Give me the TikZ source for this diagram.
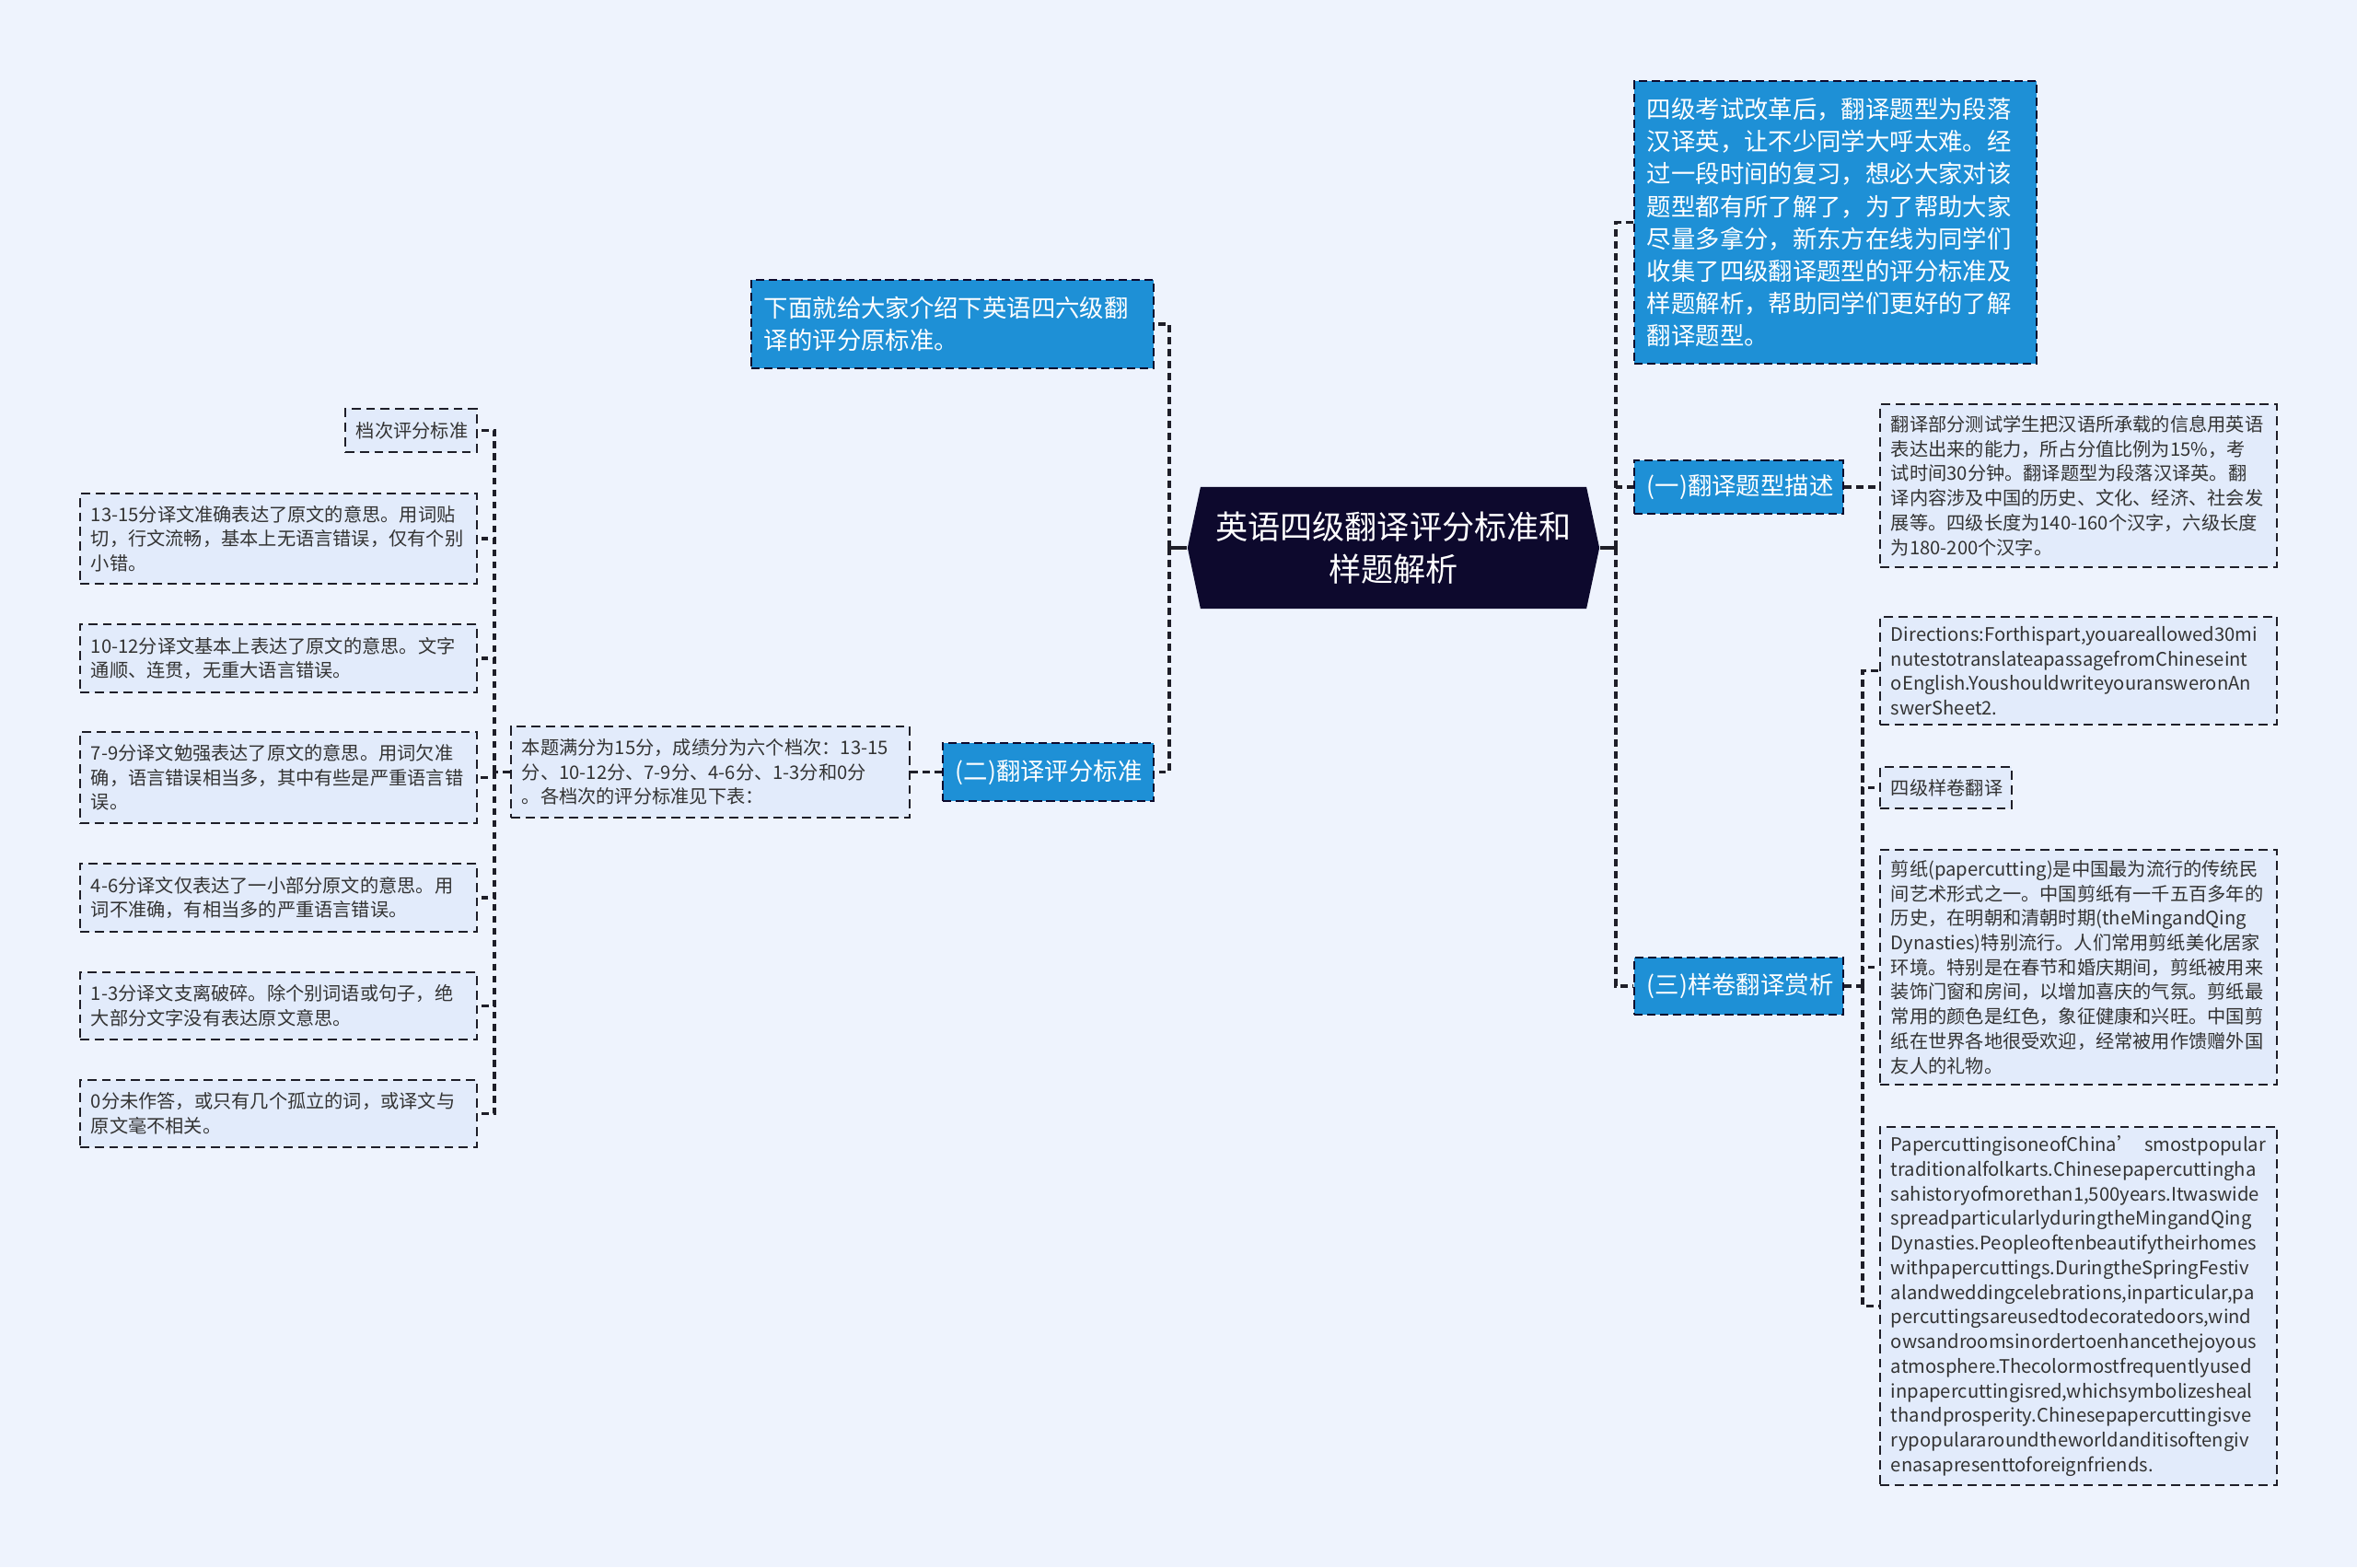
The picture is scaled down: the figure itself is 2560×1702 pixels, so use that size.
\documentclass[tikz,border=0pt]{standalone}
\usepackage{fontspec}
\setmainfont{Noto Sans CJK SC}
\usetikzlibrary{shapes.symbols}
\definecolor{bgclr}{RGB}{238,243,253}
\definecolor{rootclr}{RGB}{13,9,45}
\definecolor{topicclr}{RGB}{30,144,214}
\definecolor{noteclr}{RGB}{226,235,251}
\definecolor{inkclr}{RGB}{51,51,51}
\definecolor{lineclr}{RGB}{30,30,40}
\tikzset{
  rootbox/.style={signal, signal to=west and east, signal pointer angle=156,
    fill=rootclr, text=white, align=center, inner sep=0pt,
    minimum width=4.47cm, minimum height=1.32cm,
    font=\fontsize{10pt}{13pt}\selectfont},
  topic/.style={draw=rootclr, dash pattern=on 2.6pt off 1.4pt, line width=0.5pt,
    fill=topicclr, text=white, align=left, inner xsep=0.14cm, inner ysep=0pt,
    font=\fontsize{7.5pt}{10pt}\selectfont},
  note/.style={draw=lineclr, dash pattern=on 2.8pt off 1.7pt, line width=0.55pt,
    fill=noteclr, text=inkclr, align=left, inner xsep=0.12cm, inner ysep=0pt,
    font=\fontsize{5.75pt}{7.6pt}\selectfont},
  link/.style={draw=lineclr, line width=0.9pt, dash pattern=on 2.2pt off 1.5pt},
}
\begin{document}
\begin{tikzpicture}[x=0.01cm,y=-0.01cm]
\useasboundingbox[fill=bgclr] (0,0) rectangle (2560,1702);
% centre
\node[rootbox] (root) at (1513.5,595) {英语四级翻译评分标准和\\样题解析};
% right side
\node[topic, text width=4.09cm, minimum height=3.07cm] (intro) at (1993.5,241.5)
  {四级考试改革后，翻译题型为段落\\汉译英，让不少同学大呼太难。经\\过一段时间的复习，想必大家对该\\题型都有所了解了，为了帮助大家\\尽量多拿分，新东方在线为同学们\\收集了四级翻译题型的评分标准及\\样题解析，帮助同学们更好的了解\\翻译题型。};
\node[topic, text width=1.99cm, minimum height=0.58cm] (desc) at (1888.5,529) {(一)翻译题型描述};
\node[topic, text width=1.99cm, minimum height=0.62cm] (sample) at (1888.5,1071) {(三)样卷翻译赏析};
\node[note, text width=4.07cm, minimum height=1.77cm] (descnote) at (2257.5,527.5)
  {翻译部分测试学生把汉语所承载的信息用英语\\表达出来的能力，所占分值比例为15\%，考\\试时间30分钟。翻译题型为段落汉译英。翻\\译内容涉及中国的历史、文化、经济、社会发\\展等。四级长度为140-160个汉字，六级长度\\为180-200个汉字。};
\node[note, text width=4.07cm, minimum height=1.17cm] (dirnote) at (2257.5,728.5)
  {Directions:Forthispart,youareallowed30mi\\nutestotranslateapassagefromChineseint\\oEnglish.YoushouldwriteyouransweronAn\\swerSheet2.};
\node[note, text width=1.19cm, minimum height=0.45cm] (sampletitle) at (2113.5,855.5) {四级样卷翻译};
\node[note, text width=4.07cm, minimum height=2.55cm] (cnnote) at (2257.5,1050.5)
  {剪纸(papercutting)是中国最为流行的传统民\\间艺术形式之一。中国剪纸有一千五百多年的\\历史，在明朝和清朝时期(theMingandQing\\Dynasties)特别流行。人们常用剪纸美化居家\\环境。特别是在春节和婚庆期间，剪纸被用来\\装饰门窗和房间，以增加喜庆的气氛。剪纸最\\常用的颜色是红色，象征健康和兴旺。中国剪\\纸在世界各地很受欢迎，经常被用作馈赠外国\\友人的礼物。};
\node[note, text width=4.07cm, minimum height=3.89cm] (ennote) at (2257.5,1418.5)
  {PapercuttingisoneofChina’\hfill smostpopular\\traditionalfolkarts.Chinesepapercuttingha\\sahistoryofmorethan1,500years.Itwaswide\\spreadparticularlyduringtheMingandQing\\Dynasties.Peopleoftenbeautifytheirhomes\\withpapercuttings.DuringtheSpringFestiv\\alandweddingcelebrations,inparticular,pa\\percuttingsareusedtodecoratedoors,wind\\owsandroomsinordertoenhancethejoyous\\atmosphere.Thecolormostfrequentlyused\\inpapercuttingisred,whichsymbolizesheal\\thandprosperity.Chinesepapercuttingisve\\rypopulararoundtheworldanditisoftengiv\\enasapresenttoforeignfriends.};
% left side
\node[topic, text width=4.09cm, minimum height=0.96cm] (guide) at (1034.5,352)
  {下面就给大家介绍下英语四六级翻\\译的评分原标准。};
\node[topic, text width=2.01cm, minimum height=0.63cm] (score) at (1138.5,838.5) {(二)翻译评分标准};
\node[note, text width=4.09cm, minimum height=0.99cm] (scorenote) at (771.5,838.5)
  {本题满分为15分，成绩分为六个档次：13-15\\分、10-12分、7-9分、4-6分、1-3分和0分\\。各档次的评分标准见下表：};
\node[note, text width=1.19cm, minimum height=0.47cm] (band0) at (446.5,467.5) {档次评分标准};
\node[note, text width=4.07cm, minimum height=0.98cm] (band1) at (302.5,585)
  {13-15分译文准确表达了原文的意思。用词贴\\切，行文流畅，基本上无语言错误，仅有个别\\小错。};
\node[note, text width=4.07cm, minimum height=0.74cm] (band2) at (302.5,715)
  {10-12分译文基本上表达了原文的意思。文字\\通顺、连贯，无重大语言错误。};
\node[note, text width=4.07cm, minimum height=0.99cm] (band3) at (302.5,844.5)
  {7-9分译文勉强表达了原文的意思。用词欠准\\确，语言错误相当多，其中有些是严重语言错\\误。};
\node[note, text width=4.07cm, minimum height=0.74cm] (band4) at (302.5,975)
  {4-6分译文仅表达了一小部分原文的意思。用\\词不准确，有相当多的严重语言错误。};
\node[note, text width=4.07cm, minimum height=0.73cm] (band5) at (302.5,1092.5)
  {1-3分译文支离破碎。除个别词语或句子，绝\\大部分文字没有表达原文意思。};
\node[note, text width=4.07cm, minimum height=0.73cm] (band6) at (302.5,1209.5)
  {0分未作答，或只有几个孤立的词，或译文与\\原文毫不相关。};
% joins
\coordinate (ljoin) at (1270,595);
\coordinate (rjoin) at (1755,595);
\coordinate (bjoin) at (537,838.5);
\coordinate (sjoin) at (2023,1071);
\draw[lineclr, line width=0.9pt] (root.west) -- (ljoin);
\draw[lineclr, line width=0.9pt] (root.east) -- (rjoin);
\draw[link] (ljoin) |- (guide.east);
\draw[link] (ljoin) |- (score.east);
\draw[link] (rjoin) |- (intro.west);
\draw[link] (rjoin) |- (desc.west);
\draw[link] (rjoin) |- (sample.west);
\draw[link] (desc.east) -- (desc.east -| descnote.west);
\draw[link] (score.west) -- (scorenote.east);
\draw[link] (scorenote.west) -- (bjoin);
\foreach \i in {0,...,6}
  \draw[link] (bjoin) |- (band\i.east);
\draw[link] (sample.east) -- (sjoin);
\foreach \n in {dirnote,sampletitle,cnnote,ennote}
  \draw[link] (sjoin) |- (\n.west);
\end{tikzpicture}
\end{document}
